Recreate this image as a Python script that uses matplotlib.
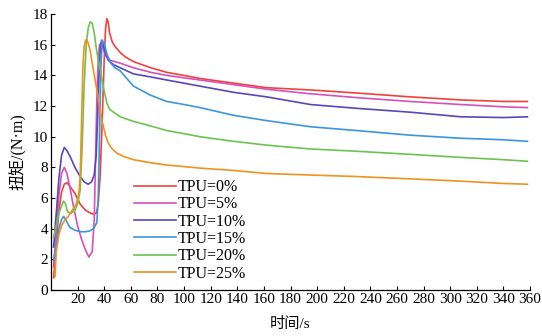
import matplotlib
matplotlib.use('Agg')
import matplotlib.pyplot as plt

plt.rcParams['font.family'] = ['Liberation Serif', 'Noto Sans CJK SC']

# TPU 含量 (图例)
labels = ['TPU=0%', 'TPU=5%', 'TPU=10%', 'TPU=15%', 'TPU=20%', 'TPU=25%']
colors = ['#f2413c', '#d452b8', '#5548b8', '#3a96e2', '#6cc450', '#f0921e']

# 扭矩曲线 (时间/s, 扭矩/N·m)
t_0 = [2, 4, 6, 8, 10, 12, 14, 18, 22, 26, 30, 32, 34, 35.5, 37, 38.5, 40, 41, 42, 43,
       44, 46, 48, 52, 56, 62, 75, 87, 100, 112, 137, 162, 195, 230, 270, 308, 340, 358]
m_0 = [0.8, 3.0, 5.2, 6.4, 6.9, 7.0, 6.8, 6.3, 5.6, 5.2, 5.0, 4.95, 5.0, 5.6, 7.5, 11.0, 15.0, 17.0, 17.7, 17.5,
       16.8, 16.2, 15.9, 15.5, 15.2, 14.9, 14.5, 14.2, 14.0, 13.8, 13.5, 13.2, 13.05, 12.85, 12.6, 12.4, 12.3, 12.3]

t_5 = [2, 4, 6, 8, 10, 12, 14, 17, 20, 23, 26, 28.5, 31, 32.5, 33.5, 34.5, 35.5, 36.5, 37.5, 39,
       41, 44, 48, 52, 62, 75, 87, 112, 137, 162, 195, 230, 270, 308, 340, 358]
m_5 = [1.5, 3.8, 6.2, 7.6, 8.0, 7.6, 6.8, 5.4, 4.2, 3.3, 2.6, 2.15, 2.5, 4.5, 8.5, 12.5, 15.0, 16.0, 16.1, 15.8,
       15.3, 15.0, 14.9, 14.8, 14.5, 14.2, 14.0, 13.7, 13.4, 13.1, 12.8, 12.55, 12.3, 12.1, 11.95, 11.9]

t_10 = [2, 4, 6, 8, 10, 12, 15, 18, 22, 25, 28, 30.5, 32.5, 34, 35, 36, 37, 38, 39, 40.5,
        43, 47, 52, 62, 75, 87, 112, 137, 162, 195, 230, 270, 308, 340, 358]
m_10 = [2.8, 5.0, 7.3, 8.8, 9.3, 9.1, 8.6, 8.0, 7.4, 7.05, 6.9, 7.05, 7.5, 8.8, 11.0, 13.8, 15.6, 16.3, 16.1, 15.6,
        15.0, 14.7, 14.5, 14.1, 13.9, 13.7, 13.3, 12.9, 12.6, 12.1, 11.85, 11.6, 11.3, 11.25, 11.3]

t_15 = [2, 4, 6, 8, 9.5, 11, 14, 18, 22, 26, 29, 32, 34.5, 35.5, 36.5, 37.5, 38.5, 40, 42, 45,
        48, 52, 57, 62, 75, 87, 100, 112, 137, 162, 195, 230, 270, 308, 340, 358]
m_15 = [1.9, 3.0, 4.0, 4.6, 4.8, 4.6, 4.1, 3.9, 3.8, 3.8, 3.85, 4.0, 4.4, 6.0, 10.0, 14.5, 16.3, 16.1, 15.4, 14.8,
        14.5, 14.3, 13.8, 13.3, 12.7, 12.3, 12.1, 11.9, 11.4, 11.05, 10.65, 10.4, 10.1, 9.9, 9.8, 9.7]

t_20 = [2, 4, 6, 8, 9.5, 11, 12.5, 15, 18, 20, 22, 23.5, 25, 26.5, 28, 29.5, 31, 32.5, 34, 36,
        38, 40, 42, 44, 47, 52, 62, 75, 87, 100, 112, 137, 162, 195, 230, 270, 308, 340, 358]
m_20 = [3.4, 4.2, 5.0, 5.5, 5.8, 5.6, 5.1, 5.0, 5.2, 5.6, 6.5, 9.5, 13.5, 16.0, 17.1, 17.5, 17.4, 16.8, 15.8, 14.8,
        13.9, 13.0, 12.2, 11.8, 11.6, 11.3, 11.0, 10.7, 10.4, 10.2, 10.0, 9.7, 9.45, 9.2, 9.05, 8.85, 8.65, 8.5, 8.4]

t_25 = [3, 4, 6, 8, 10, 13, 16, 19, 21, 22, 23, 24, 25, 26, 27, 28, 29.5, 31, 33, 35,
        37, 39, 41, 43, 46, 50, 55, 62, 75, 87, 100, 112, 137, 162, 195, 230, 270, 308, 340, 358]
m_25 = [0.85, 2.5, 3.6, 4.2, 4.5, 4.8, 5.2, 5.6, 6.3, 7.5, 11.0, 14.5, 15.9, 16.3, 16.3, 16.1, 15.6, 14.8, 13.8, 12.8,
        11.7, 10.8, 10.1, 9.6, 9.2, 8.9, 8.7, 8.5, 8.3, 8.15, 8.05, 7.95, 7.8, 7.6, 7.5, 7.4, 7.25, 7.1, 6.95, 6.9]

series = [(t_0, m_0), (t_5, m_5), (t_10, m_10), (t_15, m_15), (t_20, m_20), (t_25, m_25)]

fig = plt.figure(figsize=(5.42, 3.36), dpi=100)
ax = fig.add_axes([0.094, 0.137, 0.884, 0.821])

for (t, m), lab, c in zip(series, labels, colors):
    ax.plot(t, m, color=c, lw=1.2, label=lab)

ax.set_xlim(0, 360)
ax.set_ylim(0, 18)
ax.set_xticks(range(20, 361, 20))
ax.set_yticks(range(0, 19, 2))
ax.tick_params(direction='in', length=3, width=0.8, labelsize=11, pad=2)
for s in ['top', 'right']:
    ax.spines[s].set_visible(False)
for s in ['left', 'bottom']:
    ax.spines[s].set_linewidth(0.9)

ax.set_xlabel('时间/s', fontsize=11, labelpad=8)
ax.set_ylabel('扭矩/(N·m)', fontsize=11.5, labelpad=4)

ax.legend(loc='lower left', bbox_to_anchor=(0.15, -0.01), frameon=False, fontsize=11.5,
          handlelength=2.6, labelspacing=0.08, handletextpad=0.15, borderaxespad=0.3)

plt.savefig('out.png', dpi=100)
